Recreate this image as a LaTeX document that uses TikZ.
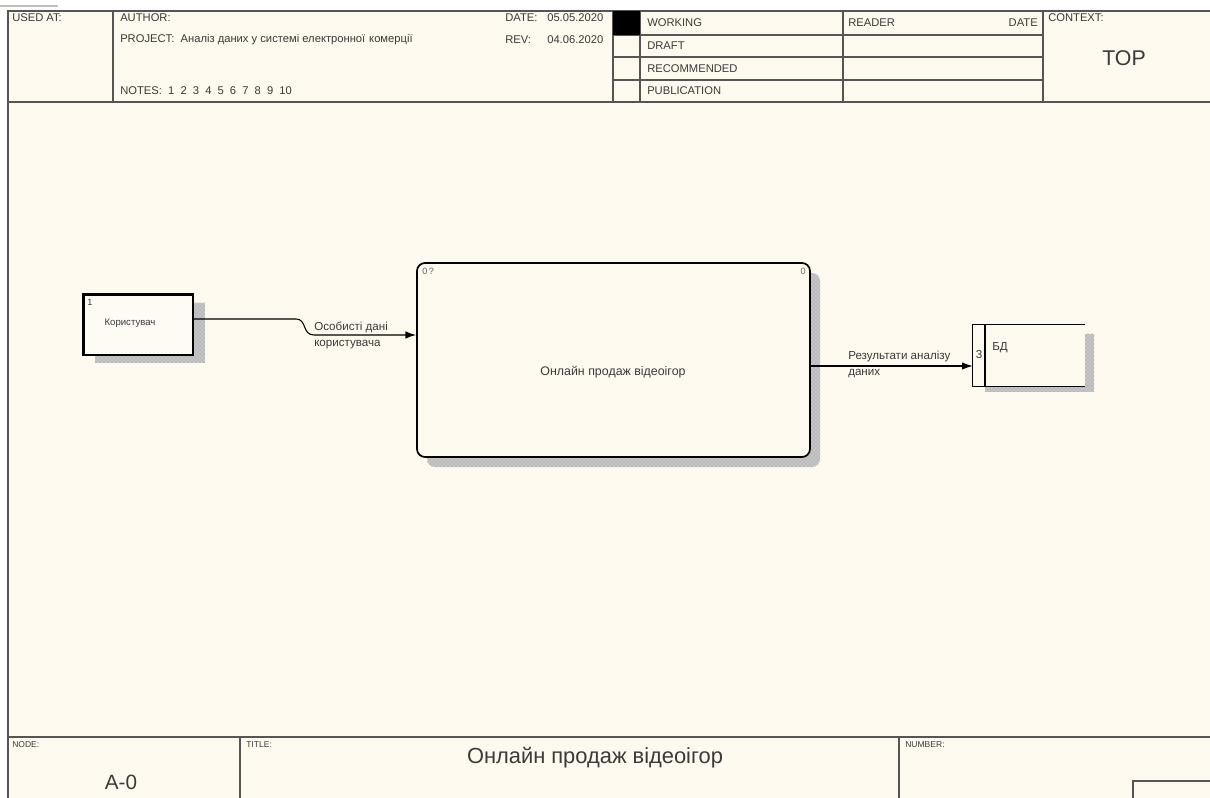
\documentclass[tikz,border=0pt]{standalone}
\usepackage{fontspec}
\setmainfont{Liberation Sans}
\usetikzlibrary{arrows.meta,patterns,calc}
\definecolor{paper}{HTML}{FDF9EE}
\definecolor{ink}{HTML}{3A3A3A}
\definecolor{rule}{HTML}{555555}
\tikzset{
  frame/.style={draw=rule,line width=1.1pt},
  hdr/.style={anchor=west,inner sep=0pt,text=ink,font=\fontsize{8.4}{10}\selectfont},
  small/.style={anchor=west,inner sep=0pt,text=ink,font=\fontsize{6.4}{8}\selectfont},
  lbl/.style={inner sep=0pt,text=ink,font=\fontsize{8.7}{12}\selectfont,align=left},
  shadow/.style={draw=none,preaction={fill=gray!45},pattern=crosshatch dots,pattern color=gray!85},
  flow/.style={draw=black,line width=0.8pt,-{Latex[length=8pt,width=5.5pt]}},
}
\begin{document}
\begin{tikzpicture}[x=0.75pt,y=-0.75pt]
\useasboundingbox (0,0) rectangle (1210,798);
\fill[white] (0,0) rectangle (1210,11);
\fill[paper] (8,11) rectangle (1210,798);
\draw[gray!50,line width=1.5pt] (0,6) -- (58,6);
% ---------- header ----------
\draw[frame] (1210,11) -- (8,11) -- (8,798);
\draw[frame] (8,102) -- (1210,102);
\draw[frame] (113,11) -- (113,102);
\draw[frame] (613,11) -- (613,102);
\draw[frame] (640,11) -- (640,102);
\draw[frame] (843,11) -- (843,102);
\draw[frame] (1043,11) -- (1043,102);
\foreach \yy in {35,57,80} \draw[frame] (613,\yy) -- (1043,\yy);
\fill[black] (613,11) rectangle (640,35);
\node[hdr] (usedat) at (12,17.5) {USED AT:};
\node[hdr] (author) at (120,17.5) {AUTHOR:};
\node[hdr] (project) at (120,40) {PROJECT:\ \ Аналіз даних у системі електронної\hspace{0.6pt} комерції};
\node[hdr] (notes) at (120,91) {NOTES:\ \ 1\hspace{4.6pt}2\hspace{4.6pt}3\hspace{4.6pt}4\hspace{4.6pt}5\hspace{4.6pt}6\hspace{4.6pt}7\hspace{4.6pt}8\hspace{4.6pt}9\hspace{4.6pt}10};
\node[hdr] (date) at (505,17.5) {DATE:};
\node[hdr] (dateval) at (547,17.5) {05.05.2020};
\node[hdr] (rev) at (505,40) {REV:};
\node[hdr] (revval) at (547,40) {04.06.2020};
\node[hdr] (working) at (647,23) {WORKING};
\node[hdr] (draft) at (647,46) {DRAFT};
\node[hdr] (recommended) at (647,68.5) {RECOMMENDED};
\node[hdr] (publication) at (647,91) {PUBLICATION};
\node[hdr] (reader) at (848,23) {READER};
\node[hdr,anchor=east] (rdate) at (1038,23) {DATE};
\node[hdr] (context) at (1048,17.5) {CONTEXT:};
\node[inner sep=0pt,text=ink,font=\fontsize{16}{18}\selectfont] (top) at (1124,58) {TOP};
% ---------- footer ----------
\draw[frame] (8,737) -- (1210,737);
\draw[frame] (240,737) -- (240,798);
\draw[frame] (899,737) -- (899,798);
\draw[frame] (1133,798) -- (1133,781) -- (1210,781);
\node[small] (nodelbl) at (12,745) {NODE:};
\node[small] (titlelbl) at (246,745) {TITLE:};
\node[small] (numberlbl) at (905,745) {NUMBER:};
\node[inner sep=0pt,text=ink,font=\fontsize{15.5}{17}\selectfont] (a0) at (121,782) {A-0};
\node[inner sep=0pt,text=ink,font=\fontsize{16.4}{18}\selectfont] (title) at (595,758) {Онлайн продаж відеоігор};
% ---------- entity ----------
\fill[shadow] (193,303) rectangle (205,363);
\fill[shadow] (95,355) rectangle (205,363);
\node[draw=black,fill=white!40!paper,line width=0.9pt,minimum width=110*0.75pt,minimum height=61*0.75pt,inner sep=0pt] (ent) at (138,324.5) {};
\draw[black,line width=2.4pt] ($(ent.south west)+(1,0)$) -- ($(ent.north west)+(1,1)$) -- ($(ent.north east)+(0,1)$);
\node[small,font=\fontsize{6.8}{8}\selectfont,anchor=north west] (entnum) at (87,299) {1};
\node[lbl,font=\fontsize{7.2}{9}\selectfont] (enttxt) at (130,323) {Користувач};
% ---------- activity ----------
\fill[shadow,rounded corners=6pt] (427,273) rectangle (820,467);
\node[draw=black,fill=paper,line width=1.3pt,rounded corners=6pt,minimum width=393*0.75pt,minimum height=194*0.75pt,inner sep=0pt] (act) at (613.5,360) {};
\node[small,font=\fontsize{6.8}{8}\selectfont,text=gray!80!black,anchor=north west] (actq) at (422,268) {0\,?};
\node[small,font=\fontsize{6.8}{8}\selectfont,text=gray!80!black,anchor=north east] (actn) at (806,268) {0};
\node[lbl,font=\fontsize{9.3}{11}\selectfont] (acttxt) at (613,372) {Онлайн продаж відеоігор};
% ---------- data store ----------
\fill[shadow] (1085,334) rectangle (1094,392);
\fill[shadow] (985,386) rectangle (1094,392);
\node[draw=none,fill=paper,minimum width=112*0.75pt,minimum height=61*0.75pt,inner sep=0pt] (store) at (1029,355.5) {};
\draw[black,line width=1pt] (store.north east) -- (store.north west) -- (store.south west) -- (store.south east);
\draw[black,line width=1pt] (985,325) -- (985,386);
\node[lbl] (storenum) at (979,355) {3};
\node[lbl,anchor=west] (storetxt) at (992,348) {БД};
% ---------- arrows ----------
\draw[flow] (ent.east |- 0,319) -- (296,319) .. controls (307,319) and (302,335) .. (314,335) -- (act.west |- 0,335);
\node[lbl,anchor=west] (lab1) at (314,335) {Особисті дані\\користувача};
\draw[flow] (act.east |- 0,366) -- (store.west |- 0,366);
\node[lbl,anchor=west] (lab2) at (848,364.5) {Результати аналізу\\даних};
\end{tikzpicture}
\end{document}
